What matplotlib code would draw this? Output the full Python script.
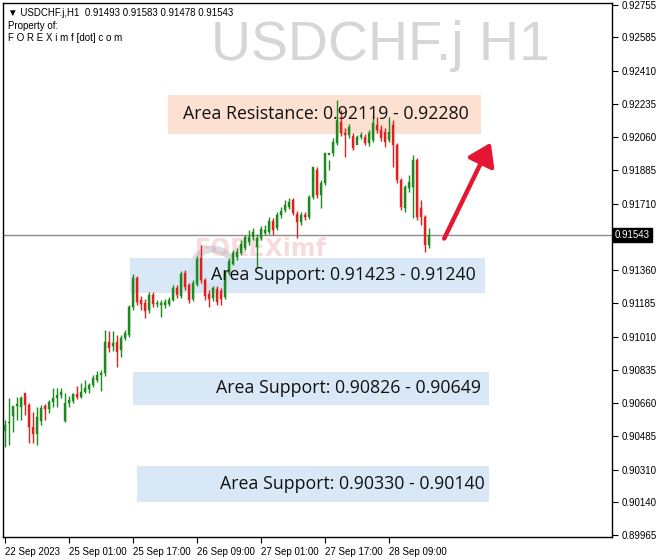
import matplotlib
matplotlib.use("Agg")
import matplotlib.pyplot as plt
from matplotlib.patches import Rectangle, FancyArrowPatch, Ellipse

# ---------------- data ----------------
symbol = "USDCHF.j,H1"
watermark = "USDCHF.j H1"
last_ohlc = [0.91493, 0.91583, 0.91478, 0.91543]

opens = [0.90512, 0.90555, 0.90592, 0.90645, 0.90640, 0.90713, 0.90650, 0.90534, 0.90497, 0.90568,
         0.90645, 0.90629, 0.90666, 0.90687, 0.90703, 0.90566, 0.90661, 0.90671, 0.90708, 0.90692,
         0.90718, 0.90734, 0.90755, 0.90781, 0.90808, 0.90818, 0.90981, 0.90960, 0.90981, 0.90939,
         0.91002, 0.91018, 0.91166, 0.91318, 0.91202, 0.91186, 0.91150, 0.91229, 0.91181, 0.91176,
         0.91176, 0.91181, 0.91202, 0.91266, 0.91224, 0.91344, 0.91281, 0.91208, 0.91286, 0.91423,
         0.91308, 0.91234, 0.91213, 0.91260, 0.91250, 0.91218, 0.91344, 0.91392, 0.91429, 0.91450,
         0.91476, 0.91508, 0.91534, 0.91481, 0.91529, 0.91555, 0.91560, 0.91618, 0.91581, 0.91650,
         0.91676, 0.91692, 0.91729, 0.91655, 0.91613, 0.91650, 0.91639, 0.91744, 0.91887, 0.91755,
         0.91818, 0.91965, 0.91976, 0.92029, 0.92139, 0.92081, 0.92071, 0.92065, 0.92018, 0.92060,
         0.92060, 0.92029, 0.92044, 0.92123, 0.92097, 0.92086, 0.92044, 0.92123, 0.92018, 0.91834,
         0.91687, 0.91792, 0.91797, 0.91939, 0.91687, 0.91639, 0.91493]
highs = [0.90571, 0.90687, 0.90624, 0.90692, 0.90697, 0.90697, 0.90660, 0.90613, 0.90640, 0.90650,
         0.90655, 0.90676, 0.90739, 0.90739, 0.90739, 0.90713, 0.90697, 0.90713, 0.90750, 0.90766,
         0.90781, 0.90766, 0.90808, 0.90829, 0.90834, 0.91044, 0.91039, 0.91039, 0.91018, 0.91018,
         0.91044, 0.91176, 0.91339, 0.91329, 0.91223, 0.91208, 0.91244, 0.91244, 0.91202, 0.91202,
         0.91208, 0.91218, 0.91281, 0.91281, 0.91355, 0.91360, 0.91292, 0.91308, 0.91434, 0.91492,
         0.91318, 0.91255, 0.91276, 0.91276, 0.91266, 0.91360, 0.91423, 0.91466, 0.91476, 0.91518,
         0.91545, 0.91571, 0.91581, 0.91550, 0.91592, 0.91597, 0.91639, 0.91634, 0.91665, 0.91692,
         0.91729, 0.91739, 0.91739, 0.91671, 0.91665, 0.91665, 0.91755, 0.91897, 0.91902, 0.91834,
         0.91887, 0.91887, 0.92055, 0.92255, 0.92202, 0.92108, 0.92129, 0.92081, 0.92071, 0.92086,
         0.92076, 0.92097, 0.92176, 0.92166, 0.92123, 0.92108, 0.92166, 0.92150, 0.92029, 0.91844,
         0.91808, 0.91860, 0.91965, 0.91950, 0.91729, 0.91650, 0.91581]
lows = [0.90429, 0.90439, 0.90508, 0.90571, 0.90571, 0.90597, 0.90450, 0.90450, 0.90439, 0.90545,
        0.90571, 0.90608, 0.90639, 0.90639, 0.90687, 0.90561, 0.90639, 0.90661, 0.90681, 0.90687,
        0.90713, 0.90713, 0.90745, 0.90771, 0.90724, 0.90802, 0.90929, 0.90934, 0.90850, 0.90902,
        0.90992, 0.91008, 0.91150, 0.91176, 0.91150, 0.91108, 0.91134, 0.91166, 0.91166, 0.91113,
        0.91160, 0.91171, 0.91197, 0.91213, 0.91213, 0.91255, 0.91186, 0.91197, 0.91276, 0.91292,
        0.91202, 0.91166, 0.91197, 0.91176, 0.91176, 0.91208, 0.91334, 0.91387, 0.91413, 0.91439,
        0.91466, 0.91492, 0.91518, 0.91371, 0.91518, 0.91545, 0.91550, 0.91545, 0.91571, 0.91634,
        0.91665, 0.91681, 0.91650, 0.91529, 0.91597, 0.91623, 0.91629, 0.91734, 0.91739, 0.91687,
        0.91808, 0.91939, 0.91960, 0.92018, 0.92065, 0.91955, 0.92055, 0.91992, 0.92044, 0.92050,
        0.92018, 0.92013, 0.92034, 0.92081, 0.92039, 0.92008, 0.92034, 0.91902, 0.91818, 0.91676,
        0.91665, 0.91771, 0.91634, 0.91623, 0.91597, 0.91455, 0.91478]
closes = [0.90544, 0.90555, 0.90645, 0.90655, 0.90687, 0.90650, 0.90534, 0.90497, 0.90587, 0.90634,
          0.90629, 0.90666, 0.90687, 0.90703, 0.90718, 0.90661, 0.90676, 0.90708, 0.90692, 0.90718,
          0.90739, 0.90755, 0.90792, 0.90808, 0.90818, 0.90981, 0.90950, 0.90976, 0.90929, 0.91002,
          0.91029, 0.91166, 0.91318, 0.91192, 0.91181, 0.91144, 0.91229, 0.91181, 0.91186, 0.91186,
          0.91192, 0.91202, 0.91266, 0.91229, 0.91339, 0.91271, 0.91202, 0.91292, 0.91418, 0.91308,
          0.91223, 0.91208, 0.91266, 0.91192, 0.91208, 0.91344, 0.91408, 0.91450, 0.91455, 0.91497,
          0.91534, 0.91534, 0.91560, 0.91529, 0.91576, 0.91571, 0.91618, 0.91571, 0.91650, 0.91671,
          0.91702, 0.91718, 0.91660, 0.91613, 0.91650, 0.91639, 0.91744, 0.91902, 0.91755, 0.91818,
          0.91976, 0.91976, 0.92034, 0.92150, 0.92081, 0.92071, 0.92113, 0.92002, 0.92060, 0.92071,
          0.92029, 0.92081, 0.92134, 0.92097, 0.92055, 0.92034, 0.92086, 0.92018, 0.91834, 0.91692,
          0.91797, 0.91823, 0.91939, 0.91639, 0.91639, 0.91492, 0.91543]

date_ticks = [0, 16, 32, 48, 64, 80, 96]
date_labels = ["22 Sep 2023", "25 Sep 01:00", "25 Sep 17:00", "26 Sep 09:00",
               "27 Sep 01:00", "27 Sep 17:00", "28 Sep 09:00"]
price_ticks = [0.92755, 0.92585, 0.92410, 0.92235, 0.92060, 0.91885, 0.91710,
               0.91360, 0.91185, 0.91010, 0.90835, 0.90660, 0.90485, 0.90310,
               0.90140, 0.89965]

resistance_zone = (0.92119, 0.92280)
support_zones = [(0.91423, 0.91240), (0.90826, 0.90649), (0.90330, 0.90140)]
current_price = 0.91543

# ---------------- figure ----------------
W, H = 664, 560
UI = "Liberation Sans"
fig = plt.figure(figsize=(W / 100, H / 100), dpi=100)
fig.patch.set_facecolor("white")
ax = fig.add_axes([3 / W, 1 - 537 / H, (612 - 3) / W, (537 - 3) / H])
ax.set_facecolor("white")
ax.set_xlim(-0.5, 151.75)
ax.set_ylim(0.899551, 0.927655)

green = "#1c8a1c"
red = "#e0221e"
n = len(opens)
for i in range(n):
    o, h, l, c = opens[i], highs[i], lows[i], closes[i]
    col = green if c >= o else red
    ax.vlines(i, l, h, color=col, linewidth=1.0, zorder=3)
    lo, hi = min(o, c), max(o, c)
    if hi - lo < 0.00004:
        hi = lo + 0.00004
    ax.add_patch(Rectangle((i - 0.36, lo), 0.72, hi - lo, facecolor=col,
                           edgecolor=col, linewidth=0.3, zorder=4))

# faint logo watermark (behind the zone box)
ax.add_patch(Ellipse((52.0, 0.91370), 10.0, 0.0020, facecolor="none",
                     edgecolor="#c6c6cc", linewidth=5, alpha=0.6, zorder=0.5))
ax.text(64.0, 0.91470, "FOREXimf", ha="center", va="center", fontsize=17,
        fontweight="bold", color="#e79aa6", alpha=0.35, zorder=0.6)

# zones
res_fill = "#fce1d2"
sup_fill = "#d5e6f6"
res_x = (40.75, 119.0)
sup_x = [(31.25, 120.0), (32.0, 121.0), (33.0, 121.0)]
lo_r, hi_r = min(resistance_zone), max(resistance_zone)
ax.add_patch(Rectangle((res_x[0], lo_r - 0.00045), res_x[1] - res_x[0],
                       hi_r - lo_r + 0.00045, facecolor=res_fill,
                       edgecolor="none", zorder=1))
ax.text((res_x[0] + res_x[1]) / 2 + 0.3, (lo_r + hi_r) / 2 - 0.0002,
        f"Area Resistance: {resistance_zone[0]:.5f} - {resistance_zone[1]:.5f}",
        ha="center", va="center", fontsize=12.8, family="Open Sans",
        color="#111111", zorder=6)
text_x = [84.6, 85.8, 86.8]
for (a, b), (x0, x1), tx in zip(support_zones, sup_x, text_x):
    lo, hi = min(a, b), max(a, b)
    ax.add_patch(Rectangle((x0, lo), x1 - x0, hi - lo, facecolor=sup_fill,
                           edgecolor="none", alpha=0.9, zorder=1))
    ax.text(tx, (lo + hi) / 2, f"Area Support: {a:.5f} - {b:.5f}",
            ha="center", va="center", fontsize=12.8, family="Open Sans",
            color="#111111", zorder=6)

# current price line
ax.axhline(current_price, color="#8c8c8c", linewidth=1.0, zorder=2)

# arrow
arr = FancyArrowPatch((109.5, 0.91513), (121.75, 0.92044),
                      arrowstyle="-|>,head_length=6,head_width=4",
                      mutation_scale=2.2, color="#e51632", linewidth=3.2,
                      zorder=7, capstyle="round")
ax.add_patch(arr)

# watermark title
ax.text(93.8, 0.92540, watermark, ha="center", va="center", fontsize=40,
        family=UI, color="#d6d6d6", zorder=0)

# header texts
ax.text(0.008, 0.990, "\u25bc " + symbol + "  " + " ".join(f"{v:.5f}" for v in last_ohlc),
        transform=ax.transAxes, ha="left", va="top", fontsize=7,
        family=[UI, "DejaVu Sans"], color="black")
ax.text(0.008, 0.966, "Property of:", transform=ax.transAxes, ha="left", va="top",
        fontsize=7, family=UI, color="black")
ax.text(0.008, 0.943, "F O R E X i m f [dot] c o m", transform=ax.transAxes,
        ha="left", va="top", fontsize=7, family=UI, color="black")

# axes styling
for s in ax.spines.values():
    s.set_color("black")
    s.set_linewidth(1.0)
ax.yaxis.tick_right()
ax.set_yticks(price_ticks)
ax.set_yticklabels([f"{v:.5f}" for v in price_ticks], family=UI)
ax.tick_params(axis="y", direction="out", length=4, width=0.8, labelsize=7,
               pad=3, colors="black")
ax.set_xticks(date_ticks)
ax.set_xticklabels(date_labels, ha="left", family=UI)
ax.tick_params(axis="x", direction="out", length=4, width=0.8, labelsize=7,
               pad=3, colors="black")

# current price tag
ax.text(1.0045, current_price, f"{current_price:.5f}", transform=ax.get_yaxis_transform(),
        ha="left", va="center", fontsize=7, family=UI, color="white", zorder=10,
        bbox=dict(boxstyle="square,pad=0.2", facecolor="black", edgecolor="black"),
        clip_on=False)

fig.savefig("out.png", dpi=100, facecolor="white")
